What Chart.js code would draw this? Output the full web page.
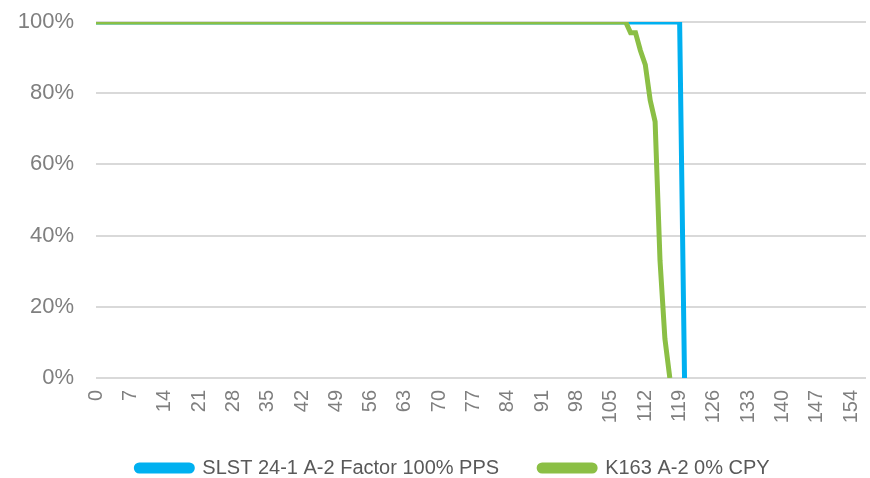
<!DOCTYPE html>
<html>
<head>
<meta charset="utf-8">
<script src="https://cdn.jsdelivr.net/npm/chart.js@4"></script>
<style>
  html, body { margin: 0; padding: 0; background: #fff; }
  #wrap { width: 870px; height: 478px; }
</style>
</head>
<body>
<div id="wrap"><canvas id="factorChart"></canvas></div>
<script>
// x categories (periods 0..157)
const periods = [
  0, 1, 2, 3, 4, 5, 6, 7, 8, 9, 10, 11, 12, 13, 14, 15, 16, 17, 18, 19,
  20, 21, 22, 23, 24, 25, 26, 27, 28, 29, 30, 31, 32, 33, 34, 35, 36, 37, 38, 39,
  40, 41, 42, 43, 44, 45, 46, 47, 48, 49, 50, 51, 52, 53, 54, 55, 56, 57, 58, 59,
  60, 61, 62, 63, 64, 65, 66, 67, 68, 69, 70, 71, 72, 73, 74, 75, 76, 77, 78, 79,
  80, 81, 82, 83, 84, 85, 86, 87, 88, 89, 90, 91, 92, 93, 94, 95, 96, 97, 98, 99,
  100, 101, 102, 103, 104, 105, 106, 107, 108, 109, 110, 111, 112, 113, 114, 115, 116, 117, 118, 119,
  120, 121, 122, 123, 124, 125, 126, 127, 128, 129, 130, 131, 132, 133, 134, 135, 136, 137, 138, 139,
  140, 141, 142, 143, 144, 145, 146, 147, 148, 149, 150, 151, 152, 153, 154, 155, 156, 157
];

// SLST 24-1 A-2 Factor 100% PPS (percent of original balance), periods 0..120
const slstFactor = [
  100, 100, 100, 100, 100, 100, 100, 100, 100, 100, 100, 100, 100, 100, 100, 100, 100, 100, 100, 100,
  100, 100, 100, 100, 100, 100, 100, 100, 100, 100, 100, 100, 100, 100, 100, 100, 100, 100, 100, 100,
  100, 100, 100, 100, 100, 100, 100, 100, 100, 100, 100, 100, 100, 100, 100, 100, 100, 100, 100, 100,
  100, 100, 100, 100, 100, 100, 100, 100, 100, 100, 100, 100, 100, 100, 100, 100, 100, 100, 100, 100,
  100, 100, 100, 100, 100, 100, 100, 100, 100, 100, 100, 100, 100, 100, 100, 100, 100, 100, 100, 100,
  100, 100, 100, 100, 100, 100, 100, 100, 100, 100, 100, 100, 100, 100, 100, 100, 100, 100, 100, 100,
  0
];

// K163 A-2 0% CPY, periods 0..117
const k163Factor = [
  100, 100, 100, 100, 100, 100, 100, 100, 100, 100, 100, 100, 100, 100, 100, 100, 100, 100, 100, 100,
  100, 100, 100, 100, 100, 100, 100, 100, 100, 100, 100, 100, 100, 100, 100, 100, 100, 100, 100, 100,
  100, 100, 100, 100, 100, 100, 100, 100, 100, 100, 100, 100, 100, 100, 100, 100, 100, 100, 100, 100,
  100, 100, 100, 100, 100, 100, 100, 100, 100, 100, 100, 100, 100, 100, 100, 100, 100, 100, 100, 100,
  100, 100, 100, 100, 100, 100, 100, 100, 100, 100, 100, 100, 100, 100, 100, 100, 100, 100, 100, 100,
  100, 100, 100, 100, 100, 100, 100, 100, 100, 97, 97, 92, 88, 78, 72, 33, 11, 0
];

const yTicks = [0, 20, 40, 60, 80, 100];

// legend keeps its wide item spacing but takes less height, and sits a bit right / up
const legendTweak = {
  id: "legendTweak",
  beforeInit(chart) {
    const fit = chart.legend.fit;
    chart.legend.fit = function () {
      fit.call(this);
      this.height = 52;
    };
  },
  afterLayout(chart) {
    const lg = chart.legend;
    lg.left += 20;
    lg.right += 20;
    lg.top -= 8;
  },
};

const ctx = document.getElementById("factorChart").getContext("2d");
new Chart(ctx, {
  type: "line",
  data: {
    labels: periods,
    datasets: [
      {
        label: "SLST 24-1 A-2 Factor 100% PPS",
        data: slstFactor,
        borderColor: "#00b0f0",
        backgroundColor: "#00b0f0",
        borderWidth: 5,
        pointRadius: 0,
        tension: 0,
        order: 1,
      },
      {
        label: "K163 A-2 0% CPY",
        data: k163Factor,
        borderColor: "#8bbf45",
        backgroundColor: "#8bbf45",
        borderWidth: 5,
        pointRadius: 0,
        tension: 0,
        order: 0,
      },
    ],
  },
  plugins: [legendTweak],
  options: {
    responsive: true,
    maintainAspectRatio: false,
    animation: false,
    layout: { padding: { top: 22, right: 4, left: 0, bottom: 0 } },
    plugins: {
      tooltip: { enabled: false },
      legend: {
        position: "bottom",
        labels: {
          sort: (a, b) => a.datasetIndex - b.datasetIndex,
          boxWidth: 56,
          boxHeight: 6,
          useBorderRadius: true,
          borderRadius: 3,
          padding: 40,
          color: "#595959",
          font: { family: "'Liberation Sans', Arial, sans-serif", size: 20 },
        },
      },
    },
    scales: {
      x: {
        grid: { display: false, drawTicks: false },
        border: { display: false },
        ticks: {
          autoSkip: false,
          minRotation: 90,
          maxRotation: 90,
          padding: 12,
          color: "#7f7f7f",
          font: { family: "'Liberation Sans', Arial, sans-serif", size: 20 },
          callback: function (v, i) {
            const p = periods[i];
            return p % 7 === 0 ? String(p) : "";
          },
        },
        afterFit: (scale) => {
          scale.height = 48;
          scale.paddingLeft = 0;
          scale.paddingRight = 0;
          scale.paddingTop = 0;
          scale.paddingBottom = 0;
        },
      },
      y: {
        min: 0,
        max: 100,
        afterBuildTicks: (scale) => { scale.ticks = yTicks.map((v) => ({ value: v })); },
        grid: { color: "#d9d9d9", lineWidth: 2, drawTicks: false },
        border: { display: false },
        ticks: {
          padding: 22,
          color: "#7f7f7f",
          font: { family: "'Liberation Sans', Arial, sans-serif", size: 22 },
          callback: (v) => v + "%",
        },
        afterFit: (scale) => {
          scale.width = 96;
          scale.paddingTop = 0;
          scale.paddingBottom = 0;
        },
      },
    },
  },
});
</script>
</body>
</html>
